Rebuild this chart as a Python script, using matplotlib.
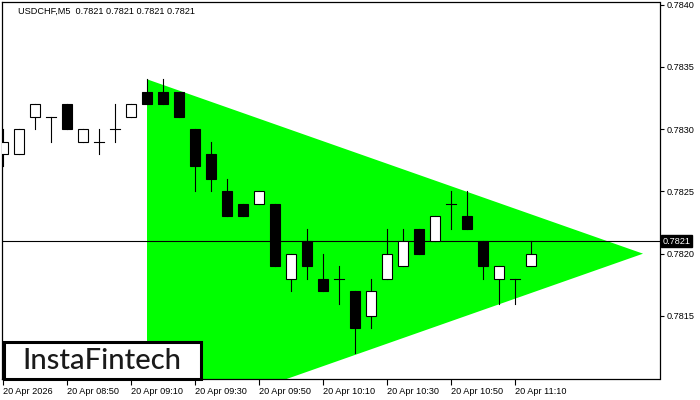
import matplotlib
matplotlib.use('Agg')
import matplotlib.pyplot as plt
from matplotlib.patches import Rectangle, Polygon
from matplotlib.transforms import blended_transform_factory

plt.rcParams['font.family'] = ['Liberation Sans', 'DejaVu Sans']

# USDCHF M5 candles, 08:30 .. 11:15
opens = [0.7828, 0.7828, 0.7831, 0.7831, 0.7832, 0.7829, 0.7829, 0.7830, 0.7831, 0.7833,
         0.7833, 0.7833, 0.7830, 0.7828, 0.7825, 0.7824, 0.7824, 0.7824, 0.7818, 0.7821,
         0.7818, 0.7818, 0.7817, 0.7815, 0.7818, 0.7819, 0.7822, 0.7821, 0.7824, 0.7823,
         0.7821, 0.7818, 0.7818, 0.7819]
highs = [0.7830, 0.7830, 0.7832, 0.7831, 0.7832, 0.7830, 0.7830, 0.7832, 0.7832, 0.7834,
         0.7834, 0.7833, 0.7830, 0.7829, 0.7826, 0.7824, 0.7825, 0.7824, 0.7820, 0.7822,
         0.7820, 0.7819, 0.7817, 0.7818, 0.7822, 0.7822, 0.7822, 0.7823, 0.7825, 0.7825,
         0.7821, 0.7819, 0.7818, 0.7821]
lows = [0.7827, 0.7828, 0.7830, 0.7829, 0.7830, 0.7829, 0.7828, 0.7829, 0.7831, 0.7832,
        0.7832, 0.7831, 0.7825, 0.7825, 0.7823, 0.7823, 0.7824, 0.7819, 0.7817, 0.7818,
        0.7817, 0.7816, 0.7812, 0.7814, 0.7818, 0.7819, 0.7820, 0.7821, 0.7822, 0.7822,
        0.7818, 0.7816, 0.7816, 0.7819]
closes = [0.7829, 0.7830, 0.7832, 0.7831, 0.7830, 0.7830, 0.7829, 0.7830, 0.7832, 0.7832,
          0.7832, 0.7831, 0.7827, 0.7826, 0.7823, 0.7823, 0.7825, 0.7819, 0.7820, 0.7819,
          0.7817, 0.7818, 0.7814, 0.7817, 0.7820, 0.7821, 0.7820, 0.7823, 0.7824, 0.7822,
          0.7819, 0.7819, 0.7818, 0.7820]

tick_pos = [0, 4, 8, 12, 16, 20, 24, 28, 32]
tick_labels = ['20 Apr 2026', '20 Apr 08:50', '20 Apr 09:10', '20 Apr 09:30', '20 Apr 09:50',
               '20 Apr 10:10', '20 Apr 10:30', '20 Apr 10:50', '20 Apr 11:10']
price_ticks = [0.7815, 0.7820, 0.7825, 0.7830, 0.7835, 0.7840]

# triangle pattern vertices (bar index, price)
tri_x = [9, 40, 9]
tri_y = [0.7834, 0.7820, 0.7806]

last_price = 0.7821

fig = plt.figure(figsize=(7, 4), dpi=100)
ax = fig.add_axes([2 / 700, 21 / 400, 657.5 / 700, 376.7 / 400])
ax.set_xlim(-0.0625, 41.03)
ax.set_ylim(0.780994, 0.784018)

ax.add_patch(Polygon(list(zip(tri_x, tri_y)), closed=True, facecolor='#00ff00',
                     edgecolor='none', zorder=1))
ax.axhline(last_price, color='black', lw=0.8, zorder=2)

w = 0.66
for i, (o, h, l, c) in enumerate(zip(opens, highs, lows, closes)):
    ax.plot([i, i], [l, h], color='black', lw=0.8, zorder=3)
    if abs(c - o) < 1e-9:
        ax.plot([i - w / 2, i + w / 2], [o, o], color='black', lw=0.8, zorder=4)
    else:
        face = 'white' if c > o else 'black'
        ax.add_patch(Rectangle((i - w / 2, min(o, c)), w, abs(c - o), facecolor=face,
                               edgecolor='black', lw=0.8, zorder=4))

ax.yaxis.tick_right()
ax.set_yticks(price_ticks)
ax.set_yticklabels(['%.4f' % p for p in price_ticks], fontsize=6.6)
ax.tick_params(axis='y', length=3, width=0.8, pad=2)
ax.set_xticks(tick_pos)
ax.set_xticklabels(tick_labels, fontsize=6.6, ha='left')
ax.tick_params(axis='x', length=4, width=0.8, pad=2)
for s in ax.spines.values():
    s.set_linewidth(0.9)

# current price tag on the right axis
tr = blended_transform_factory(ax.transAxes, ax.transData)
ax.text(1.0045, last_price, '0.7821', transform=tr, fontsize=6.6, color='white',
        va='center', ha='left',
        bbox=dict(boxstyle='square,pad=0.15', facecolor='black', edgecolor='black'))

ax.text(16 / 657.5, 1 - 9 / 376.7, 'USDCHF,M5  0.7821 0.7821 0.7821 0.7821',
        transform=ax.transAxes, fontsize=6.6, color='black', va='center', ha='left')

# logo box
ax.add_patch(Rectangle((1.5 / 657.5, 0.0), 197 / 657.5, 37 / 376.7, transform=ax.transAxes,
                       facecolor='white', edgecolor='black', lw=2.2, zorder=6, clip_on=False))
ax.text(100 / 657.5, 18 / 376.7, 'InstaFintech', transform=ax.transAxes, fontsize=21,
        family=['Lato', 'DejaVu Sans'], weight='medium', color='#1a1a1a',
        ha='center', va='center', zorder=7)

fig.savefig('out.png', dpi=100)
